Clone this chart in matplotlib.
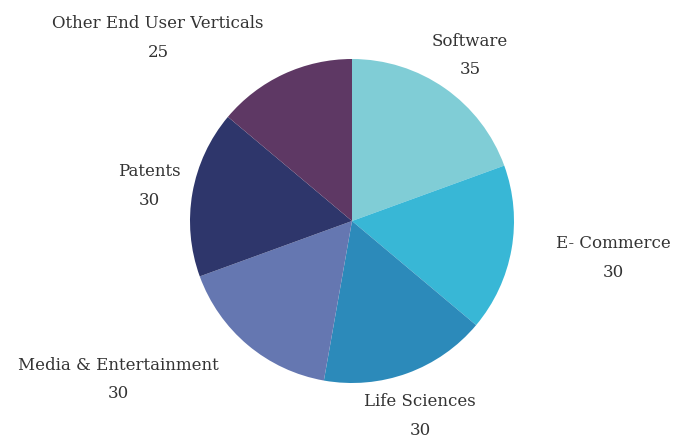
import matplotlib
matplotlib.use("Agg")
import matplotlib.pyplot as plt
import numpy as np

# 資料
categories = ["Software", "E- Commerce", "Life Sciences", "Media & Entertainment",
              "Patents", "Other End User Verticals"]
values = [35, 30, 30, 30, 30, 25]
colors = ["#80cdd6", "#38b7d6", "#2c8aba", "#6577b1", "#2e366b", "#5e3864"]

# 標籤位置 (半徑倍數, 角度)
label_r = [1.26, 1.63, 1.27, 1.74, 1.27, 1.65]
label_ang = [54.6, -7.8, -70.7, -146, 170, 136.5]

plt.rcParams['font.family'] = ['DejaVu Serif']
fig = plt.figure(figsize=(6.86, 4.39), dpi=100)
ax = fig.add_axes([0, 0, 1, 1])

ax.pie(values, colors=colors, startangle=90, counterclock=False, radius=1,
       wedgeprops=dict(linewidth=0))

for name, v, r, a in zip(categories, values, label_r, label_ang):
    x = r * np.cos(np.radians(a))
    y = r * np.sin(np.radians(a))
    ax.text(x, y, f"{name}\n{v}", ha="center", va="center", fontsize=12,
            color="#333333", linespacing=1.9, multialignment="center")

ax.set_xlim(-352 / 162, (686 - 352) / 162)
ax.set_ylim(-(439 - 222) / 162, 222 / 162)
ax.set_aspect("equal")
ax.axis("off")

fig.savefig("out.png", dpi=100)
